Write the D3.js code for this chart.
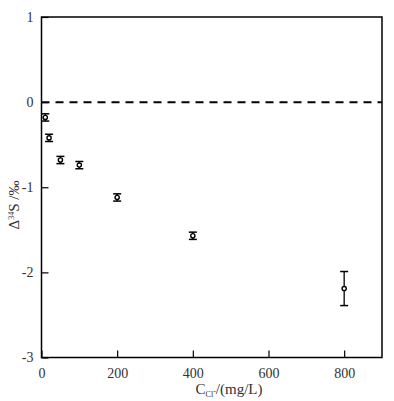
<!DOCTYPE html>
<html><head><meta charset="utf-8">
<script src="https://cdn.jsdelivr.net/npm/d3@7"></script>
<style>body{margin:0;background:#fff}svg{display:block}text{font-family:"Liberation Serif","Times New Roman","DejaVu Serif",serif !important;fill:#333}</style>
</head><body><svg id="c" width="394" height="401"></svg>
<script>
const concentrations = [10, 20, 50, 100, 200, 400, 800];
const delta34S = [-0.18, -0.42, -0.68, -0.74, -1.12, -1.57, -2.19];
const errors = [0.025, 0.025, 0.025, 0.025, 0.025, 0.025, 0.2];
const xTicks = [0, 200, 400, 600, 800];
const yTicks = [1, 0, -1, -2, -3];

const svg = d3.select("#c");
const L = 41.5, R = 382, T = 17, B = 357.5;
const x = d3.scaleLinear().domain([0, 900]).range([L, R]);
const y = d3.scaleLinear().domain([-3, 1]).range([B, T]);

svg.append("rect").attr("x", L).attr("y", T).attr("width", R - L).attr("height", B - T)
  .attr("fill", "none").attr("stroke", "#000").attr("stroke-width", 1.5);

const xAxis = svg.append("g").attr("transform", `translate(0,${B})`)
  .call(d3.axisBottom(x).tickValues(xTicks).tickSizeInner(-7).tickSizeOuter(0).tickPadding(11));
xAxis.select(".domain").remove();
xAxis.selectAll("line").attr("stroke", "#000").attr("stroke-width", 1.2);
xAxis.selectAll("text").attr("font-size", 14);

const yAxis = svg.append("g").attr("transform", `translate(${L},0)`)
  .call(d3.axisLeft(y).tickValues(yTicks).tickSizeInner(-7).tickSizeOuter(0).tickPadding(8));
yAxis.select(".domain").remove();
yAxis.selectAll("line").attr("stroke", "#000").attr("stroke-width", 1.2);
yAxis.selectAll("text").attr("font-size", 14).text(d => d < 0 ? "-" + Math.abs(d) : d);

svg.append("line").attr("x1", L).attr("x2", R).attr("y1", y(0)).attr("y2", y(0))
  .attr("stroke", "#000").attr("stroke-width", 2).attr("stroke-dasharray", "8,6");

const data = concentrations.map((c, i) => ({c, v: delta34S[i], e: errors[i]}));
const g = svg.append("g");
data.forEach(d => {
  const cx = x(d.c);
  const pad = d.e < 0.1 ? 1.5 : 0;
  const y1 = y(d.v + d.e) - pad, y2 = y(d.v - d.e) + pad;
  g.append("line").attr("x1", cx).attr("x2", cx).attr("y1", y1).attr("y2", y2)
    .attr("stroke", "#000").attr("stroke-width", 1.3);
  [y1, y2].forEach(py => {
    g.append("line").attr("x1", cx - 4).attr("x2", cx + 4).attr("y1", py).attr("y2", py)
      .attr("stroke", "#000").attr("stroke-width", 1.5);
  });
  g.append("circle").attr("cx", cx).attr("cy", y(d.v)).attr("r", 2.1)
    .attr("fill", "#fff").attr("stroke", "#000").attr("stroke-width", 1.4);
});

const xl = svg.append("text").attr("x", 229).attr("y", 394).attr("text-anchor", "middle").attr("font-size", 15);
xl.append("tspan").text("C");
xl.append("tspan").attr("font-size", 8).attr("dy", 3).text("Cl");
xl.append("tspan").attr("font-size", 8).attr("dy", -3).text("-");
xl.append("tspan").text("/(mg/L)");

const yl = svg.append("text").attr("transform", "translate(19,205) rotate(-90)").attr("text-anchor", "middle").attr("font-size", 15);
yl.append("tspan").text("Δ");
yl.append("tspan").attr("font-size", 8).attr("dy", -5).text("34");
yl.append("tspan").attr("dy", 5).text("S /‰");
</script></body></html>
